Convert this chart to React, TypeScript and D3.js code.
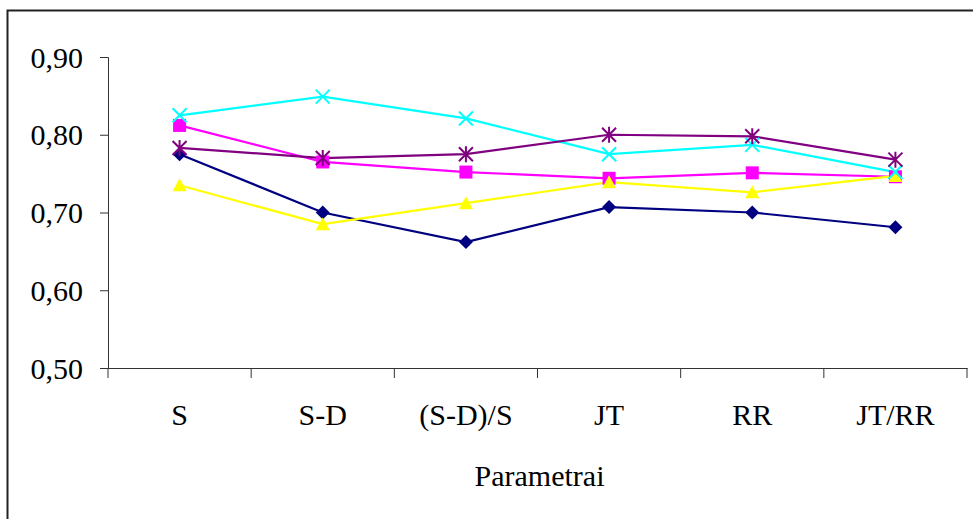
import React, { useRef, useEffect } from 'react';
import * as d3 from 'd3';

const categories = ['S', 'S-D', '(S-D)/S', 'JT', 'RR', 'JT/RR'];
const yTicks = [0.5, 0.6, 0.7, 0.8, 0.9];

const navyValues = [0.775, 0.700, 0.662, 0.707, 0.700, 0.681];
const magentaValues = [0.812, 0.765, 0.752, 0.744, 0.751, 0.746];
const yellowValues = [0.735, 0.685, 0.712, 0.739, 0.726, 0.747];
const cyanValues = [0.825, 0.849, 0.821, 0.775, 0.787, 0.752];
const purpleValues = [0.783, 0.770, 0.775, 0.800, 0.798, 0.768];

const series = [
    { name: 'navy', color: '#000080', symbol: 'diamond', values: navyValues },
    { name: 'magenta', color: '#FF00FF', symbol: 'square', values: magentaValues },
    { name: 'yellow', color: '#FFFF00', symbol: 'triangle', values: yellowValues },
    { name: 'cyan', color: '#00FFFF', symbol: 'x', values: cyanValues },
    { name: 'purple', color: '#800080', symbol: 'star', values: purpleValues },
];

const App = () => {
    const ref = useRef(null);

    useEffect(() => {
        if (ref.current) drawChart(ref.current);
    }, []);

    return (
        <svg ref={ref} width={973} height={519}
            style={{ position: 'absolute', left: 0, top: 0, background: '#fff' }} />
    );

    function drawChart(el) {
        const svg = d3.select(el);
        svg.selectAll('*').remove();

        const margin = { top: 57, left: 108, right: 6, bottom: 151 };
        const width = 973 - margin.left - margin.right;
        const height = 519 - margin.top - margin.bottom;
        const font = '"Liberation Serif", "Times New Roman", serif';

        // outer frame
        svg.append('rect')
            .attr('x', 7.5).attr('y', 10.5)
            .attr('width', 1000).attr('height', 600)
            .attr('fill', 'none').attr('stroke', '#222').attr('stroke-width', 2);

        const g = svg.append('g')
            .attr('transform', `translate(${margin.left},${margin.top})`);

        const x = d3.scaleBand().domain(categories).range([0, width]);
        const y = d3.scaleLinear().domain([0.5, 0.9]).range([height, 0]);

        const yAxis = g.append('g')
            .call(d3.axisLeft(y).tickValues(yTicks).tickSize(8).tickPadding(17)
                .tickFormat(d => d3.format('.2f')(d).replace('.', ',')));
        yAxis.selectAll('text').style('font-family', font).style('font-size', '30px')
            .attr('fill', '#000').attr('dy', '0.34em');
        yAxis.selectAll('line, path').attr('stroke', '#333');

        const xAxis = g.append('g')
            .attr('transform', `translate(0,${height})`)
            .call(d3.axisBottom(x).tickSize(0).tickPadding(36));
        xAxis.selectAll('text').style('font-family', font).style('font-size', '30px').attr('fill', '#000');
        xAxis.selectAll('path').attr('stroke', '#333');

        // tick marks between categories
        const bounds = categories.map(c => x(c)).concat([width]);
        g.append('g').selectAll('line').data(bounds).enter().append('line')
            .attr('x1', d => d).attr('x2', d => d)
            .attr('y1', height).attr('y2', height + 10)
            .attr('stroke', '#333');

        g.append('text')
            .attr('x', width / 2 + 2).attr('y', height + 118)
            .attr('text-anchor', 'middle')
            .style('font-family', font).style('font-size', '30px')
            .text('Parametrai');

        const cx = i => x(categories[i]) + x.bandwidth() / 2;

        const line = d3.line()
            .x((d, i) => cx(i))
            .y(d => y(d));

        series.forEach(s => {
            g.append('path')
                .datum(s.values)
                .attr('d', line)
                .attr('fill', 'none')
                .attr('stroke', s.color)
                .attr('stroke-width', 2.2);
        });

        series.forEach(s => {
            const pts = g.append('g').selectAll('g').data(s.values).enter().append('g')
                .attr('transform', (d, i) => `translate(${cx(i)},${y(d)})`);
            if (s.symbol === 'diamond') {
                pts.append('path').attr('d', 'M0,-7L7,0L0,7L-7,0Z').attr('fill', s.color);
            } else if (s.symbol === 'square') {
                pts.append('rect').attr('x', -6.5).attr('y', -6.5).attr('width', 13).attr('height', 13).attr('fill', s.color);
            } else if (s.symbol === 'triangle') {
                pts.append('path').attr('d', 'M0,-7L7,6L-7,6Z').attr('fill', s.color);
            } else if (s.symbol === 'x') {
                pts.append('path').attr('d', 'M-7,-7L7,7M-7,7L7,-7')
                    .attr('stroke', s.color).attr('stroke-width', 2);
            } else {
                pts.append('path').attr('d', 'M-7,-7L7,7M-7,7L7,-7M0,-8L0,8')
                    .attr('stroke', s.color).attr('stroke-width', 2);
            }
        });
    }
};

export default App;
